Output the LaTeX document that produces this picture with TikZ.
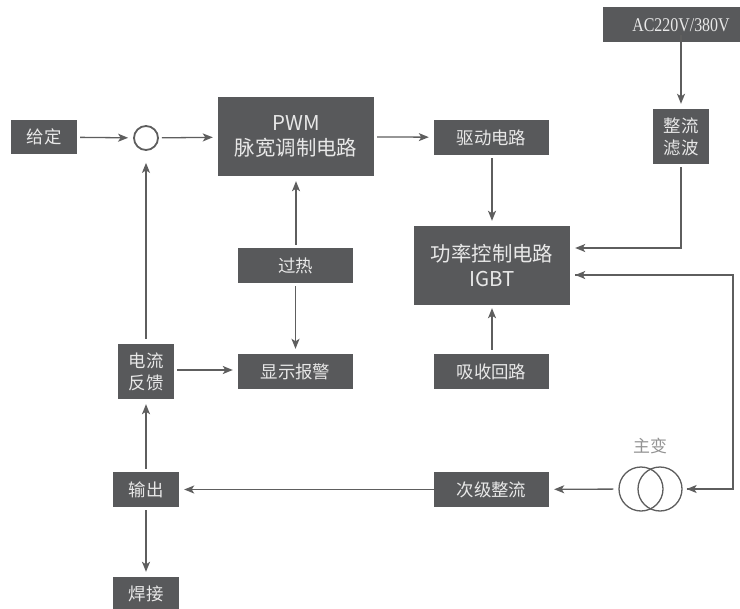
\documentclass[tikz,border=0pt]{standalone}
\usepackage{fontspec}
\newfontfamily\cjk{Noto Sans CJK SC}
\newfontfamily\acfont{Liberation Serif}
\usetikzlibrary{arrows.meta,calc}
\definecolor{boxfill}{HTML}{58595B}
\definecolor{boxtext}{HTML}{E8E8E8}
\definecolor{linecol}{HTML}{5E5E5E}
\tikzset{
  blk/.style={rectangle,fill=boxfill,text=boxtext,inner sep=0pt,align=center,
    font=\cjk\fontsize{17.5}{22}\selectfont},
  bigblk/.style={blk,minimum width=156bp,minimum height=79bp,
    font=\cjk\fontsize{20.5}{26}\selectfont},
  wideblk/.style={blk,minimum width=115bp,minimum height=35bp},
  arr/.style={draw=linecol,line width=1.3bp,-{Stealth[length=10bp,width=8bp,inset=2.5bp]},
    shorten >=5bp,shorten <=3bp},
  ln/.style={draw=linecol,line width=1.3bp},
}
\begin{document}
\begin{tikzpicture}[x=1bp,y=-1bp]
\clip (0,0) rectangle (740,609);
\fill[white] (0,0) rectangle (740,609);
% nodes
\node[blk,minimum width=66bp,minimum height=34bp] (gei) at (44,137) {给定};
\node[circle,draw=linecol,line width=1.8bp,minimum size=24bp,inner sep=0pt] (circ) at (146,138) {};
\node[bigblk] (pwm) at (296,136.5) {PWM\\脉宽调制电路};
\node[wideblk] (drive) at (491.5,137.5) {驱动电路};
\fill[boxfill] (603,7) rectangle (760,42);
\node[text=boxtext,inner sep=0pt] (ac) at (681,25) {\acfont\fontsize{19.5}{22}\selectfont\scalebox{0.82}[1]{AC220V/380V}};
\node[blk,minimum width=56bp,minimum height=55bp] (zl) at (681,136.5) {整流\\滤波};
\node[bigblk] (power) at (492,265.5) {功率控制电路\\IGBT};
\node[wideblk] (guore) at (295.5,265.5) {过热};
\node[wideblk] (xianshi) at (295.5,371.5) {显示报警};
\node[wideblk] (xishou) at (491.5,371.5) {吸收回路};
\node[blk,minimum width=56bp,minimum height=55bp] (dianliu) at (146,371.5) {电流\\反馈};
\node[wideblk] (ciji) at (491.5,489.5) {次级整流};
\node[blk,minimum width=66bp,minimum height=35bp] (shuchu) at (146,489.5) {输出};
\node[blk,minimum width=66bp,minimum height=34bp] (hanjie) at (146,594) {焊接};
\node[circle,draw=linecol,line width=1.3bp,minimum size=44bp,inner sep=0pt] (t1) at (641,489) {};
\node[circle,draw=linecol,line width=1.3bp,minimum size=44bp,inner sep=0pt] (t2) at (660,489) {};
\node[text=gray!85,font=\cjk\fontsize{17}{20}\selectfont] (zhubian) at (650,446) {主变};
% helper coordinates
\coordinate (zlcorner) at (681,248);
\coordinate (loopa) at (733,275);
\coordinate (loopb) at (733,489);
% connectors
\draw[arr] (gei) -- (circ);
\draw[arr] (circ) -- (pwm);
\draw[arr] (pwm) -- (drive);
\draw[arr] (ac) -- (zl);
\draw[arr] (drive.south -| 492,0) -- (power.north -| 492,0);
\draw[arr] (zl.south) -- (zlcorner) -- (power.east |- zlcorner);
\draw[ln,shorten <=5bp] (power.east |- loopa) -- (loopa) -- (loopb) -- ($(t2.east)+(4,0)$);
\draw[draw=linecol,line width=1.3bp,-{Stealth[length=10bp,width=8bp,inset=2.5bp]}] (loopa) -- ($(power.east |- loopa)+(5,0)$);
\draw[draw=linecol,line width=1.3bp,-{Stealth[length=10bp,width=8bp,inset=2.5bp]}] (loopb) -- ($(t2.east)+(4,0)$);
\draw[arr,shorten >=3bp,shorten <=4bp] (xishou.north -| 492,0) -- (power.south -| 492,0);
\draw[arr] (guore.north -| 296,0) -- (pwm.south -| 296,0);
\draw[arr] (guore) -- (xianshi);
\draw[arr] (dianliu.east |- 0,370) -- (xianshi.west |- 0,370);
\draw[arr,shorten >=12bp,shorten <=5bp] (dianliu) -- (circ);
\draw[arr] (shuchu) -- (dianliu);
\draw[arr] (shuchu) -- (hanjie);
\draw[arr,shorten <=5bp] (t1) -- (ciji);
\draw[arr,shorten <=0bp] (ciji) -- (shuchu);
\end{tikzpicture}
\end{document}
